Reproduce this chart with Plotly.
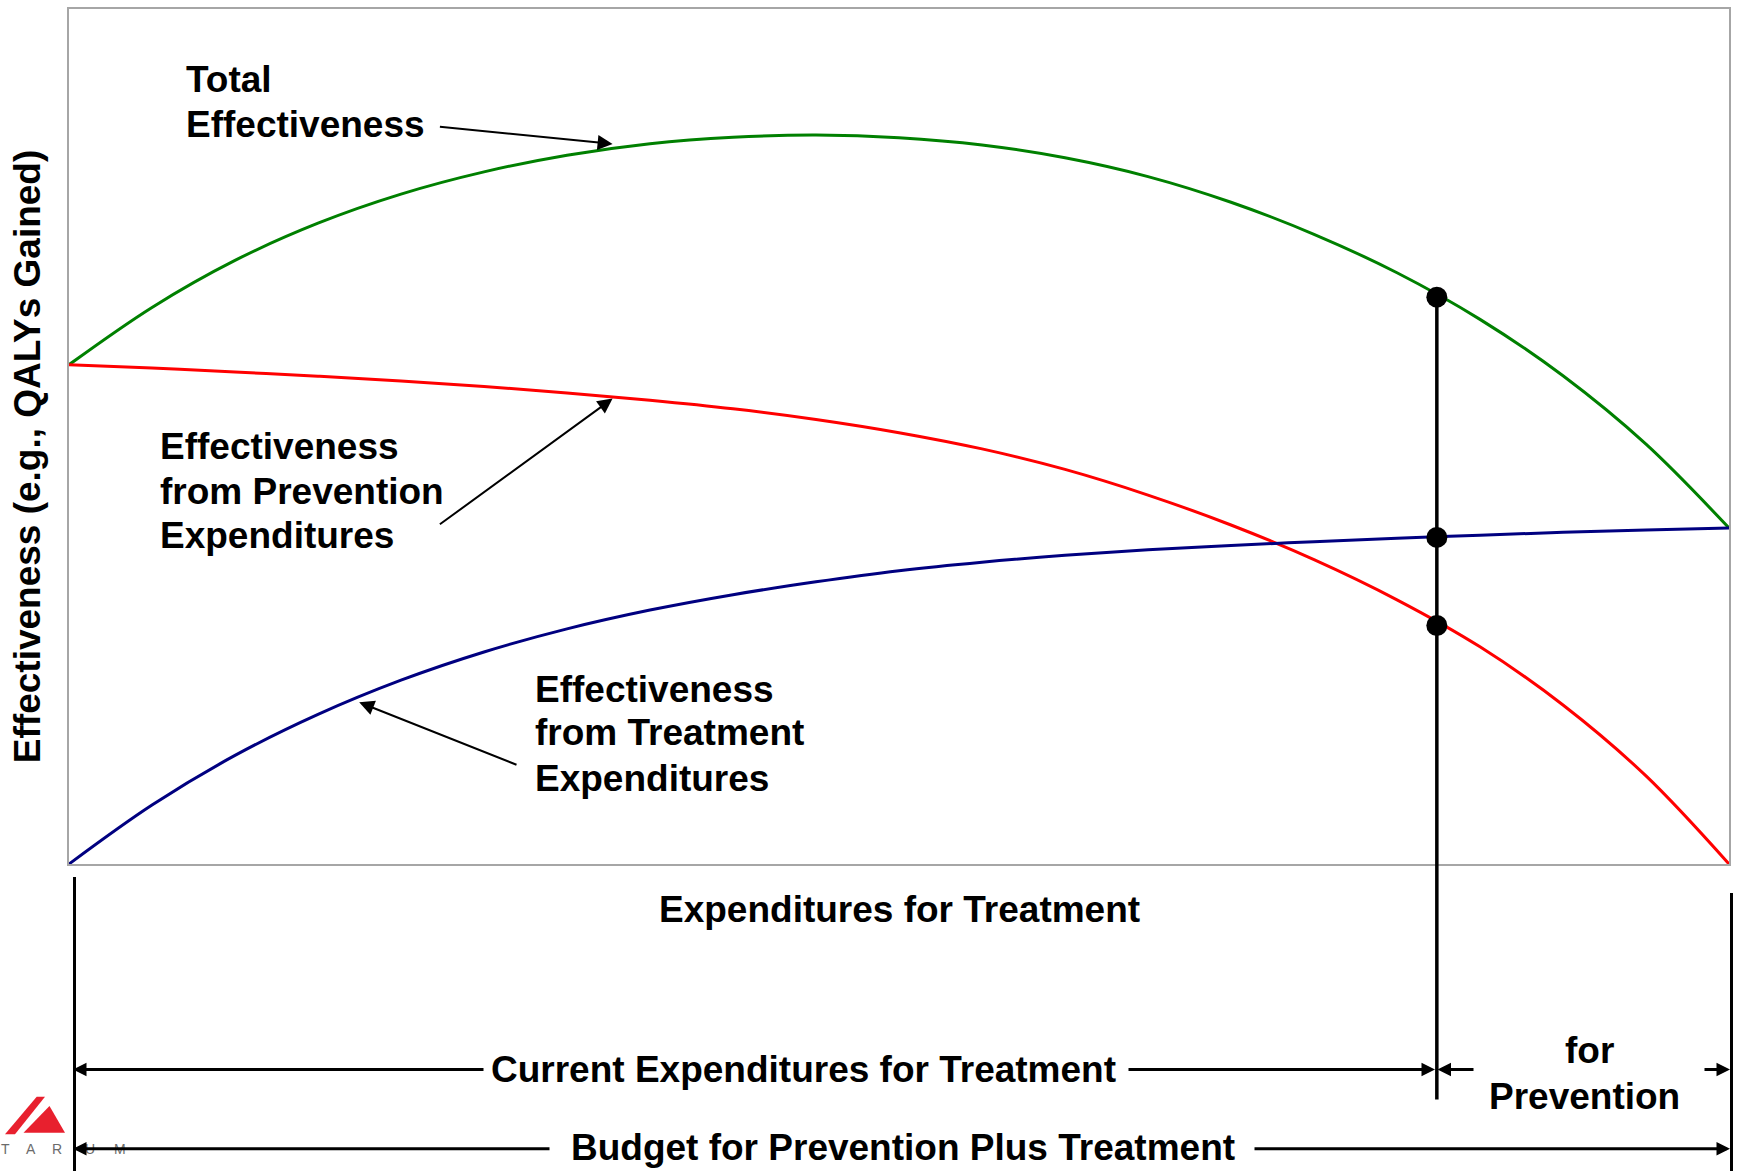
import plotly.graph_objects as go

# ---------------- data ----------------
# share of the budget spent on treatment (%)
spend_share = [0, 5, 10, 15, 20, 25, 30, 35, 40, 45, 50,
               55, 60, 65, 70, 75, 80, 85, 90, 95, 100]
# effectiveness (arbitrary units, 0-100 scale)
total_eff = [58.4, 65.1, 70.6, 74.95, 78.35, 80.95, 82.9, 84.25, 85.0, 85.25, 84.95,
             84.1, 82.6, 80.4, 77.4, 73.65, 69.15, 63.7, 57.1, 49.1, 39.3]
prev_eff = [58.4, 58.0, 57.55, 57.05, 56.5, 55.85, 55.1, 54.25, 53.25, 52.0, 50.45,
            48.55, 46.15, 43.15, 39.65, 35.6, 30.9, 25.4, 18.6, 10.3, 0.0]
treat_eff = [0.0, 6.9, 12.7, 17.5, 21.5, 24.8, 27.5, 29.7, 31.5, 33.0, 34.3,
             35.3, 36.1, 36.75, 37.25, 37.7, 38.1, 38.45, 38.8, 39.05, 39.3]

# current allocation and the three marked effectiveness levels
current_treatment_share = 82.4
current_levels = [66.3, 38.2, 27.9]   # total, treatment, prevention

y_title = "Effectiveness (e.g., QALYs Gained)"
x_title = "Expenditures for Treatment"
label_total = ["Total", "Effectiveness"]
label_prev = ["Effectiveness", "from Prevention", "Expenditures"]
label_treat = ["Effectiveness", "from Treatment", "Expenditures"]
label_current = "Current Expenditures for Treatment"
label_for_prev = ["for", "Prevention"]
label_budget = "Budget for Prevention Plus Treatment"
logo_letters = ["T", "A", "R", "U", "M"]

# ---------------- layout helpers ----------------
W, H = 1740, 1171
ML, MR, MT, MB = 69, 11, 7, 307
PW, PH = W - ML - MR, H - MT - MB
X_RANGE = [0, 100]
Y_RANGE = [0, 100]
FONT = "Liberation Sans, Arial, sans-serif"
FS = 37


def px_x(p):
    return (p - ML) / PW


def px_y(p):
    return (H - MB - p) / PH


def data_to_paper_x(v):
    return (v - X_RANGE[0]) / (X_RANGE[1] - X_RANGE[0])


def data_to_paper_y(v):
    return (v - Y_RANGE[0]) / (Y_RANGE[1] - Y_RANGE[0])


fig = go.Figure()
for series, color in [(total_eff, "#008000"), (prev_eff, "#ff0000"), (treat_eff, "#000080")]:
    fig.add_trace(go.Scatter(x=spend_share, y=series, mode="lines",
                             line=dict(color=color, width=3, shape="spline", smoothing=1.0),
                             hoverinfo="skip", showlegend=False))

shapes = []
# vertical line at current allocation
shapes.append(dict(type="line", xref="paper", yref="paper",
                   x0=data_to_paper_x(current_treatment_share), x1=data_to_paper_x(current_treatment_share),
                   y0=data_to_paper_y(current_levels[0]), y1=px_y(1100),
                   line=dict(color="black", width=3.5)))

fig.add_trace(go.Scatter(x=[current_treatment_share] * len(current_levels), y=current_levels,
                         mode="markers", marker=dict(color="black", size=21),
                         hoverinfo="skip", showlegend=False, cliponaxis=False))

# dimension-line verticals
shapes.append(dict(type="line", xref="paper", yref="paper", x0=px_x(74.5), x1=px_x(74.5),
                   y0=px_y(877), y1=px_y(1175), line=dict(color="black", width=3)))
shapes.append(dict(type="line", xref="paper", yref="paper", x0=px_x(1731.5), x1=px_x(1731.5),
                   y0=px_y(893), y1=px_y(1175), line=dict(color="black", width=3)))


# logo
def path(pts):
    return "M " + " L ".join(f"{px_x(a):.5f},{px_y(b):.5f}" for a, b in pts) + " Z"


shapes.append(dict(type="path", xref="paper", yref="paper",
                   path=path([(36.7, 1097.3), (45, 1097.3), (15, 1135), (5, 1135)]),
                   fillcolor="#e8202e", line=dict(width=0), layer="below"))
shapes.append(dict(type="path", xref="paper", yref="paper",
                   path=path([(23.5, 1133.5), (65, 1133.5), (49.5, 1106.5)]),
                   fillcolor="#e8202e", line=dict(width=0), layer="below"))

annotations = []


def txt(text, x, y, anchor="left", size=FS, color="black", bold=True):
    annotations.append(dict(text=f"<b>{text}</b>" if bold else text, xref="paper", yref="paper",
                            x=px_x(x), y=px_y(y), xanchor=anchor, yanchor="middle",
                            showarrow=False, borderpad=0,
                            font=dict(family=FONT, size=size, color=color)))


def arrow(hx, hy, tx, ty, width=3, size=0.9):
    annotations.append(dict(text="", xref="paper", yref="paper", x=px_x(hx), y=px_y(hy),
                            ax=tx - hx, ay=ty - hy, axref="pixel", ayref="pixel",
                            showarrow=True, arrowhead=2, arrowsize=size, arrowwidth=width,
                            arrowcolor="black", standoff=0, startstandoff=0))


for t, yy in zip(label_total, [78, 123]):
    txt(t, 185, yy)
for t, yy in zip(label_prev, [446, 490.5, 535]):
    txt(t, 159, yy)
for t, yy in zip(label_treat, [689.5, 732.5, 778]):
    txt(t, 534, yy)
txt(x_title, 900, 910, "center")
txt(label_current, 803, 1070, "center")
txt(label_for_prev[0], 1589, 1051, "center")
txt(label_for_prev[1], 1584, 1097, "center")
txt(label_budget, 903, 1148, "center")

annotations.append(dict(text=f"<b>{y_title}</b>", xref="paper", yref="paper",
                        x=px_x(27.7), y=px_y(455.5), xanchor="center", yanchor="middle",
                        textangle=-90, showarrow=False, borderpad=0,
                        font=dict(family=FONT, size=FS, color="black")))

for letter, cx in zip(logo_letters, [5, 31, 57, 90, 120]):
    txt(letter, cx, 1150, "center", size=14, color="#6b6b6b", bold=False)

# pointer arrows
arrow(612.6, 142.3, 438.4, 124.9, width=2, size=1.5)
arrow(612.6, 397.5, 438.4, 524.3, width=2, size=1.5)
arrow(359.2, 701.9, 518, 765, width=2, size=1.5)

# dimension arrows
arrow(73, 1070, 485, 1070)
arrow(1435, 1070, 1127, 1070)
arrow(1437.5, 1070, 1475, 1070)
arrow(1730, 1070, 1703, 1070)
arrow(73, 1149.5, 551, 1149.5)
arrow(1730, 1149.5, 1253, 1149.5)

axis_common = dict(showgrid=False, zeroline=False, showticklabels=False, ticks="",
                   showline=True, mirror=True, linecolor="#a6a6a6", linewidth=2, fixedrange=True)
fig.update_layout(
    width=W, height=H,
    margin=dict(l=ML, r=MR, t=MT, b=MB, pad=0),
    paper_bgcolor="white", plot_bgcolor="white",
    xaxis=dict(range=X_RANGE, **axis_common),
    yaxis=dict(range=Y_RANGE, **axis_common),
    shapes=shapes, annotations=annotations,
    showlegend=False,
)

fig.write_html("out.html", config={"displayModeBar": False},
               post_script="document.body.style.margin='0';document.body.style.overflow='hidden';")
